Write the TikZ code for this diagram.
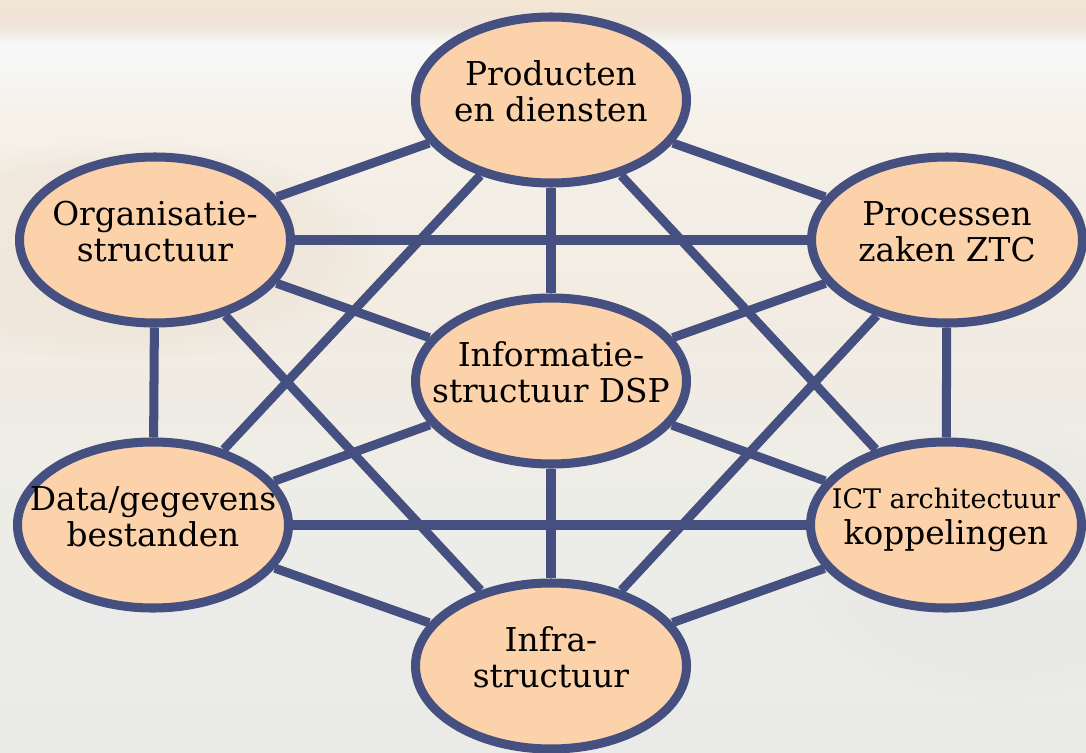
\documentclass[tikz,border=0pt]{standalone}
\usepackage{fontspec}
\setmainfont{DejaVu Serif}
\usetikzlibrary{shapes.geometric,backgrounds,fadings}
\pgfdeclarelayer{photo}
\pgfsetlayers{photo,background,main}
\definecolor{rim}{RGB}{69,79,128}
\definecolor{peach}{RGB}{251,210,170}
\definecolor{sky0}{RGB}{244,230,212}
\definecolor{sky1}{RGB}{238,228,216}
\definecolor{sky2}{RGB}{247,248,248}
\definecolor{sky3}{RGB}{245,241,233}
\definecolor{sky4}{RGB}{242,236,226}
\definecolor{sky5}{RGB}{236,237,233}
\definecolor{sky6}{RGB}{234,235,232}
\pgfdeclareverticalshading{sky}{100bp}{color(0bp)=(sky6); color(25bp)=(sky6);
  color(38.5bp)=(sky5); color(55bp)=(sky4); color(67bp)=(sky3);
  color(72bp)=(sky2); color(73.3bp)=(sky1); color(75bp)=(sky0); color(100bp)=(sky0)}

\begin{document}
\begin{tikzpicture}[x=0.03cm,y=-0.03cm,
    bol/.style={ellipse,draw=rim,fill=peach,line width=7.7pt,
      minimum width=8.13cm,minimum height=4.98cm,inner xsep=-40pt,inner ysep=-12pt,
      text depth=15pt,align=center,font=\fontsize{28}{31}\selectfont},
    lijn/.style={draw=rim,line width=7.7pt}]
  \useasboundingbox (0,0) rectangle (1086,753);

  % nodes
  \node[bol] (prod)  at (551,100) {Producten\\en diensten};
  \node[bol] (org)   at (155,240) {Organisatie-\\structuur};
  \node[bol] (proc)  at (947,240) {Processen\\zaken ZTC};
  \node[bol] (info)  at (551,381) {Informatie-\\structuur DSP};
  \node[bol] (data)  at (153,525) {Data/gegevens\\bestanden};
  \node[bol] (ict)   at (946,525) {{\fontsize{23}{31}\selectfont ICT architectuur}\\koppelingen};
  \node[bol] (infra) at (551,666) {Infra-\\structuur};

  % lines
  \begin{scope}[on background layer]
    \foreach \a/\b in {prod/org,prod/proc,org/data,proc/ict,data/infra,ict/infra,
                       org/proc,data/ict,prod/data,prod/ict,org/infra,proc/infra,
                       info/prod,info/org,info/proc,info/data,info/ict,info/infra}
      \draw[lijn] (\a) -- (\b);
  \end{scope}

  % faded sky
  \begin{pgfonlayer}{photo}
    \shade[shading=sky] (0,0) rectangle (1086,753);
    \fill[sky1,opacity=.6,path fading=circle with fuzzy edge 20 percent] (120,250) ellipse (260 and 110);
    \fill[sky5!95!black,opacity=.2,path fading=circle with fuzzy edge 20 percent] (1000,560) ellipse (200 and 140);
  \end{pgfonlayer}
\end{tikzpicture}
\end{document}
